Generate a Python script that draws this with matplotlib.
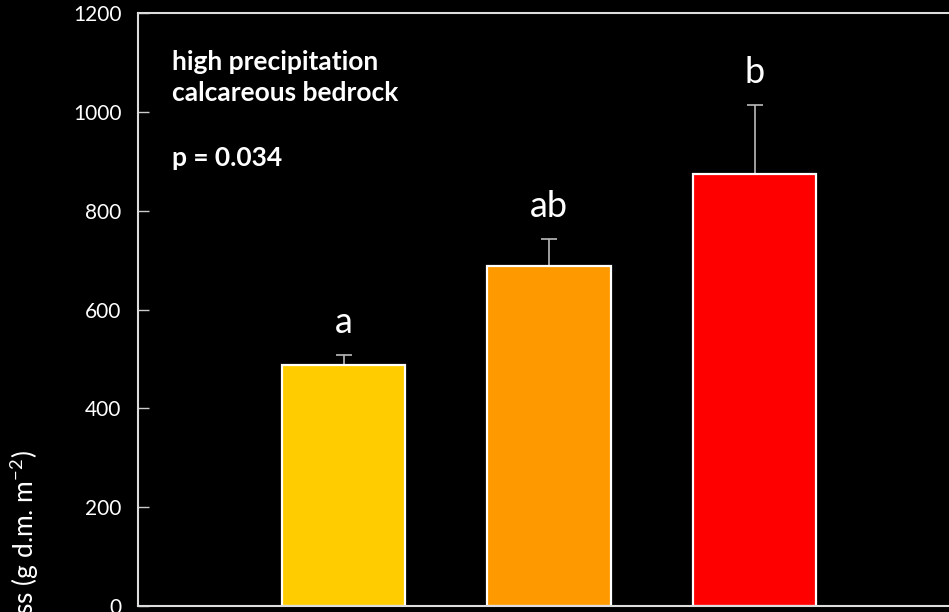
import matplotlib
matplotlib.use("Agg")
import matplotlib.pyplot as plt

categories = ["low", "medium", "high"]
values = [488, 688, 875]
errors = [20, 55, 138]
letters = ["a", "ab", "b"]
colors = ["#FFCC00", "#FF9900", "#FF0000"]
yticks = [0, 200, 400, 600, 800, 1000, 1200]

plt.rcParams["font.family"] = ["Lato", "DejaVu Sans"]
plt.rcParams["mathtext.fontset"] = "custom"
plt.rcParams["mathtext.rm"] = "Lato"

fig = plt.figure(figsize=(9.49, 6.12), dpi=100, facecolor="black")
ax = fig.add_axes([138 / 949, 6 / 612, 822 / 949, 593 / 612], facecolor="black")

x = list(range(len(categories)))
ax.bar(x, values, width=0.6, color=colors, edgecolor="white", linewidth=1.6, zorder=2)
ax.errorbar(x, values, yerr=[[0] * len(values), errors], fmt="none",
            ecolor="#BBBBBB", elinewidth=1.2, capsize=6, capthick=1.2, zorder=1)
for xi, v, e, lab in zip(x, values, errors, letters):
    ax.text(xi, v + e + 45, lab, ha="center", va="baseline", color="white", fontsize=26)

ax.set_xlim(-1, 3)
ax.set_ylim(0, 1200)
ax.set_yticks(yticks)
ax.set_xticks([])
ax.tick_params(axis="y", direction="in", length=8, width=1, color="#CCCCCC",
               labelcolor="white", labelsize=15, pad=12)
for s in ax.spines.values():
    s.set_color("#DDDDDD")
    s.set_linewidth(1.5)

ax.text(0.041, 0.904, "high precipitation", transform=ax.transAxes,
        ha="left", va="baseline", color="white", fontsize=19, fontweight="bold")
ax.text(0.041, 0.851, "calcareous bedrock", transform=ax.transAxes,
        ha="left", va="baseline", color="white", fontsize=19, fontweight="bold")
ax.text(0.041, 0.742, "p = 0.034", transform=ax.transAxes, ha="left", va="baseline",
        color="white", fontsize=19, fontweight="bold")

fig.text(0.026, (612 - 450) / 612, r"Aboveground biomass (g d.m. m$^{\mathregular{-2}}$)",
         rotation=90, ha="center", va="top", color="white", fontsize=19)

fig.savefig("out.png", dpi=100, facecolor="black")
